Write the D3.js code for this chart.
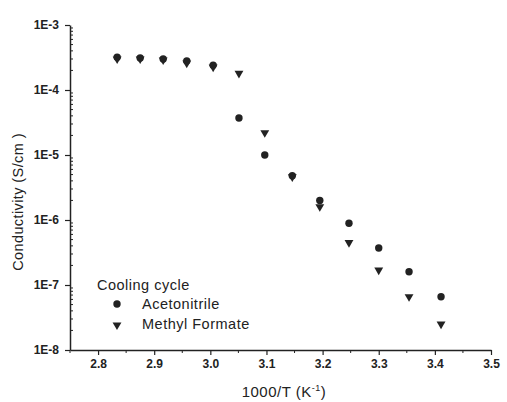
<!DOCTYPE html>
<html>
<head>
<meta charset="utf-8">
<style>
  body { margin: 0; background: #fff; }
  svg text { font-family: "Liberation Sans", Arial, sans-serif; fill: #222; }
</style>
</head>
<body>
<div id="chart"></div>
<script src="https://cdn.jsdelivr.net/npm/d3@7"></script>
<script>
// data
var invT = [2.834, 2.875, 2.916, 2.958, 3.005, 3.051, 3.097, 3.146, 3.195, 3.247, 3.300, 3.354, 3.411];
var acetonitrile = [3.2e-4, 3.1e-4, 3.0e-4, 2.8e-4, 2.4e-4, 3.7e-5, 1.0e-5, 4.8e-6, 2.0e-6, 8.9e-7, 3.7e-7, 1.6e-7, 6.6e-8];
var methylFormate = [3.0e-4, 3.0e-4, 2.9e-4, 2.6e-4, 2.25e-4, 1.8e-4, 2.2e-5, 4.6e-6, 1.6e-6, 4.5e-7, 1.7e-7, 6.6e-8, 2.5e-8];
var xTicks = [2.8, 2.9, 3.0, 3.1, 3.2, 3.3, 3.4, 3.5];
var yTicks = [1e-8, 1e-7, 1e-6, 1e-5, 1e-4, 1e-3];
var yTickLabels = ["1E-8", "1E-7", "1E-6", "1E-5", "1E-4", "1E-3"];

var width = 507, height = 402;
var svg = d3.select("#chart").append("svg")
  .attr("width", width)
  .attr("height", height);

var x = d3.scaleLinear().domain([2.75, 3.5]).range([70, 491]);
var y = d3.scaleLog().domain([1e-8, 1e-3]).range([350, 25]);

// x axis
var xAxis = svg.append("g").attr("transform", "translate(0,350)");
xAxis.call(d3.axisBottom(x).tickValues(xTicks).tickFormat(d3.format(".1f")).tickSize(5).tickPadding(4).tickSizeOuter(0));
xAxis.append("g").selectAll("line")
  .data(d3.range(2.75, 3.5, 0.1).map(function(d) { return +d.toFixed(2); }))
  .enter().append("line")
  .attr("x1", function(d) { return x(d); })
  .attr("x2", function(d) { return x(d); })
  .attr("y1", 0).attr("y2", 3)
  .attr("stroke", "#222");

// y axis
var yAxis = svg.append("g").attr("transform", "translate(70,0)");
yAxis.call(d3.axisLeft(y).tickValues(yTicks).tickFormat(function(d, i) { return yTickLabels[i]; }).tickSize(5).tickPadding(6).tickSizeOuter(0));
var minor = [];
yTicks.slice(0, -1).forEach(function(t) {
  for (var k = 2; k < 10; k++) minor.push(t * k);
});
yAxis.append("g").selectAll("line")
  .data(minor).enter().append("line")
  .attr("x1", 0).attr("x2", 3)
  .attr("y1", function(d) { return y(d); })
  .attr("y2", function(d) { return y(d); })
  .attr("stroke", "#222");

svg.selectAll(".domain").attr("stroke", "#222").attr("stroke-width", 1.5);
svg.selectAll(".tick line").attr("stroke", "#222").attr("stroke-width", 1.2);
svg.selectAll(".tick text")
  .style("font-size", "12px")
  .style("font-weight", "bold")
  .style("font-family", "'Liberation Sans', Arial, sans-serif")
  .attr("fill", "#222");

// axis titles
var xt = svg.append("text")
  .attr("x", 284).attr("y", 397)
  .attr("text-anchor", "middle")
  .style("font-size", "15px")
  .style("letter-spacing", "0.5px");
xt.append("tspan").text("1000/T (K");
xt.append("tspan").attr("dy", -6).style("font-size", "9px").text("-1");
xt.append("tspan").attr("dy", 6).text(")");

svg.append("text")
  .attr("transform", "translate(23,202) rotate(-90)")
  .attr("text-anchor", "middle")
  .style("font-size", "14.5px")
  .style("letter-spacing", "0.4px")
  .text("Conductivity (S/cm )");

// points
var tri = d3.symbol().type(d3.symbolTriangle).size(34);
svg.append("g").selectAll("circle")
  .data(invT).enter().append("circle")
  .attr("cx", function(d) { return x(d); })
  .attr("cy", function(d, i) { return y(acetonitrile[i]); })
  .attr("r", 3.7)
  .attr("fill", "#222");

svg.append("g").selectAll("path")
  .data(invT).enter().append("path")
  .attr("d", tri)
  .attr("transform", function(d, i) { return "translate(" + x(d) + "," + y(methylFormate[i]) + ") rotate(180)"; })
  .attr("fill", "#222");

// legend
var legend = svg.append("g").style("font-size", "14.5px").style("letter-spacing", "0.5px");
legend.append("text").attr("x", 97).attr("y", 290).text("Cooling cycle");
legend.append("circle").attr("cx", 117).attr("cy", 304).attr("r", 3.7).attr("fill", "#222");
legend.append("text").attr("x", 142).attr("y", 309).text("Acetonitrile");
legend.append("path").attr("d", tri).attr("transform", "translate(117,325) rotate(180)").attr("fill", "#222");
legend.append("text").attr("x", 142).attr("y", 329).text("Methyl Formate");
</script>
</body>
</html>
